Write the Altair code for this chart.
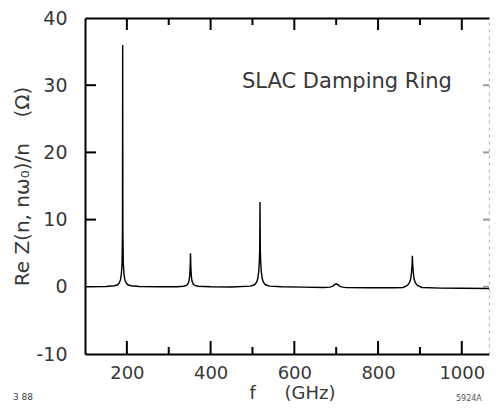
import altair as alt
import pandas as pd

# ---- data ----
f_ghz = [100, 150, 170, 178, 182, 185, 187, 188.5, 189.5, 190, 190.5, 191.5, 193, 195, 198, 202, 210, 230,
         280, 320, 335, 342, 346, 348.5, 350, 351.2, 352, 352.8, 354, 355.5, 358, 362, 370, 400,
         450, 495, 505, 510, 513, 515, 516.5, 517.3, 518, 518.7, 519.5, 521, 523, 526, 531, 541, 570,
         620, 670, 685, 692, 697, 700, 703, 708, 715, 725, 780,
         840, 860, 870, 875, 878, 880, 881.2, 882, 882.8, 884, 886, 889, 894, 905, 950, 1000, 1065]
re_z = [0.0, 0.05, 0.15, 0.3, 0.6, 1.1, 2.0, 3.5, 8.0, 36.0, 8.0, 3.5, 2.0, 1.1, 0.6, 0.3, 0.15, 0.05,
        0.0, 0.0, 0.08, 0.2, 0.45, 0.9, 1.6, 3.0, 5.0, 3.0, 1.6, 0.9, 0.45, 0.2, 0.08, 0.0,
        -0.02, 0.1, 0.3, 0.7, 1.3, 2.3, 4.0, 5.5, 12.6, 5.5, 4.0, 2.3, 1.3, 0.7, 0.3, 0.1, 0.0,
        -0.05, -0.1, -0.05, 0.1, 0.35, 0.45, 0.35, 0.1, -0.05, -0.12, -0.15,
        -0.15, -0.1, 0.2, 0.6, 1.2, 2.2, 3.4, 4.6, 3.4, 2.2, 1.2, 0.6, 0.2, -0.1, -0.2, -0.22, -0.25]

x_major = [200, 400, 600, 800, 1000]
x_minor = [300, 500, 700, 900]
y_ticks = [-10, 0, 10, 20, 30, 40]
y_left_ticks = [10, 20, 30]
y_right_ticks = [0, 10, 20, 30]

annot_text = ["SLAC Damping Ring"]
annot_f = [475]
annot_z = [29.6]

corner_left = ["3 88"]
corner_right = ["5924A"]

NB = "\u00a0"
x_title = "f" + NB * 5 + "(GHz)"
y_title = "Re Z(n, nω₀)/n" + NB * 4 + "(Ω)"

W, H = 404, 336

df = pd.DataFrame({"f": f_ghz, "z": re_z})
adf = pd.DataFrame({"f": annot_f, "z": annot_z, "t": annot_text})

xs = alt.Scale(domain=[100, 1065], nice=False, zero=False)
ys = alt.Scale(domain=[-10, 40], nice=False, zero=False)

FONT = "DejaVu Sans"
TXT = "#383838"


def ax(**kw):
    d = dict(grid=False, ticks=False, domainColor="black", domainWidth=2,
             labelFont=FONT, labelFontSize=19, labelColor=TXT, labelExpr="datum.value + ''",
             titleFont=FONT, titleFontSize=19, titleColor=TXT, titleFontWeight="normal",
             title="")
    d.update(kw)
    return alt.Axis(**d)


base = alt.Chart(df)

curve = base.mark_line(color="black", strokeWidth=1.4).encode(
    x=alt.X("f:Q", scale=xs, axis=ax(orient="bottom", values=x_major, labelPadding=10,
                                     labelFontSize=18, title=x_title, titleFontSize=18,
                                     titleX=W / 2 + 5, titleY=44, titleBaseline="alphabetic")),
    y=alt.Y("z:Q", scale=ys, axis=ax(orient="left", values=y_ticks, labelPadding=18,
                                     title=y_title, titleFontSize=20, titleX=-53,
                                     titleBaseline="bottom")),
)

frame = base.mark_line(strokeOpacity=0).encode(
    x=alt.X("f:Q", scale=xs, axis=ax(orient="top", labels=False)),
    y=alt.Y("z:Q", scale=ys, axis=ax(orient="right", labels=False, domainColor="#b0b0b0",
                                     domainWidth=1.2, domainDash=[3, 4])),
)


# inward tick marks placed at the tick values through the chart's own scales
def xticks(values, y0, y1, color="black"):
    return alt.Chart(pd.DataFrame({"v": values})).mark_rule(color=color, strokeWidth=2).encode(
        x=alt.X("v:Q", scale=xs, axis=None), y=alt.value(y0), y2=alt.value(y1))


def yticks(values, x0, x1, color="black"):
    return alt.Chart(pd.DataFrame({"v": values})).mark_rule(color=color, strokeWidth=2).encode(
        y=alt.Y("v:Q", scale=ys, axis=None), x=alt.value(x0), x2=alt.value(x1))


t_bottom_major = xticks(x_major, H, H - 13)
t_bottom_minor = xticks(x_minor, H, H - 7)
t_top_major = xticks(x_major, 0, 12)
t_top_minor = xticks(x_minor, 0, 7)
t_left = yticks(y_left_ticks, 0, 11)
t_right = yticks(y_right_ticks, W - 6, W, color="#9a9a9a")

annot = alt.Chart(adf).mark_text(align="left", baseline="alphabetic", font=FONT, fontSize=21,
                                 color=TXT).encode(
    x=alt.X("f:Q", scale=xs, axis=None),
    y=alt.Y("z:Q", scale=ys, axis=None),
    text="t:N",
)

c_left = alt.Chart(pd.DataFrame({"t": corner_left})).mark_text(
    align="left", baseline="alphabetic", font=FONT, fontSize=9, color="#444").encode(
    text="t:N", x=alt.value(-72), y=alt.value(382))

c_right = alt.Chart(pd.DataFrame({"t": corner_right})).mark_text(
    align="left", baseline="alphabetic", font=FONT, fontSize=8, color="#555").encode(
    text="t:N", x=alt.value(371), y=alt.value(383))

chart = alt.layer(
    curve, frame, t_bottom_major, t_bottom_minor, t_top_major, t_top_minor, t_left, t_right,
    annot, c_left, c_right
).resolve_axis(
    x="independent", y="independent"
).properties(
    width=W, height=H,
    autosize=alt.AutoSizeParams(type="none"),
    padding={"left": 77, "top": 10, "right": 1, "bottom": 49},
    background="white",
).configure_view(stroke=None)

chart.save("out.html", embed_options={"renderer": "svg", "actions": False})
